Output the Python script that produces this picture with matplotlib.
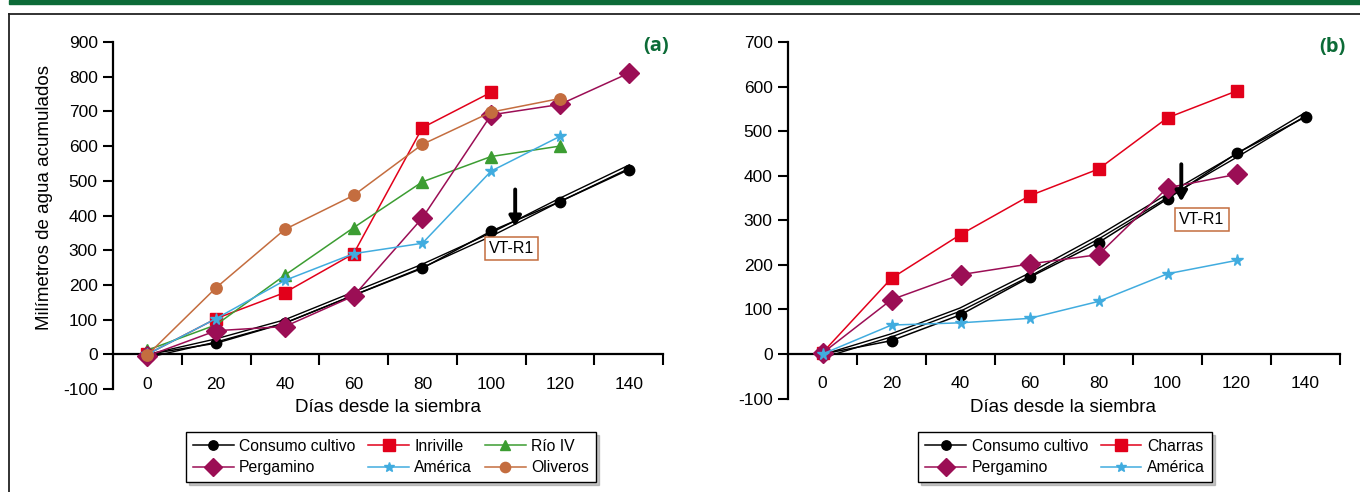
import matplotlib
matplotlib.use("Agg")
import matplotlib.pyplot as plt
from matplotlib.lines import Line2D
from matplotlib.patches import Rectangle

plt.rcParams['font.family'] = ['Liberation Sans', 'DejaVu Sans']
plt.rcParams['axes.unicode_minus'] = False

# ---------------- data ----------------
dias = [0, 20, 40, 60, 80, 100, 120, 140]

# panel (a)
a_consumo = [0, 32, 90, 170, 248, 355, 440, 532]
a_consumo_trend = [-5, 40, 95, 175, 255, 345, 445, 540]
a_inriville = [0, 103, 178, 290, 653, 755]
a_rio_iv = [12, 85, 228, 365, 497, 570, 600]
a_pergamino = [-5, 68, 80, 168, 393, 690, 720, 810]
a_america = [0, 103, 213, 290, 320, 528, 628]
a_oliveros = [-2, 192, 360, 458, 605, 698, 737]

# panel (b)
b_consumo = [0, 30, 88, 172, 250, 348, 450, 532]
b_consumo_trend = [-5, 42, 100, 178, 262, 355, 445, 538]
b_charras = [3, 170, 268, 355, 415, 530, 590]
b_pergamino = [2, 122, 178, 202, 223, 373, 403]
b_america = [0, 65, 70, 80, 118, 180, 210]

xlabel = "Días desde la siembra"
ylabel = "Milímetros de agua acumulados"

C_BLACK = "#000000"
C_RED = "#e2001a"
C_GREEN = "#3c9d32"
C_PURPLE = "#9b0e55"
C_BLUE = "#41acdf"
C_ORANGE = "#c46d3f"
C_DKGREEN = "#0c6b37"

W, H = 1360, 492
fig = plt.figure(figsize=(W / 100, H / 100), dpi=100)

def px(x0, y0, x1, y1):
    return [x0 / W, 1 - y1 / H, (x1 - x0) / W, (y1 - y0) / H]

def style_axes(ax, ymin, ymax, ystep):
    ax.set_xlim(-10, 150)
    ax.set_ylim(ymin, ymax)
    for s in ['top', 'right']:
        ax.spines[s].set_visible(False)
    ax.spines['bottom'].set_position(('data', 0))
    ax.spines['left'].set_linewidth(1.6)
    ax.spines['bottom'].set_linewidth(1.6)
    ax.set_yticks(list(range(ymin, ymax + 1, ystep)))
    ax.tick_params(axis='y', direction='out', length=7, width=1.5, labelsize=12.5, pad=4)
    ax.set_xticks(list(range(10, 151, 20)))
    ax.set_xticklabels([])
    ax.set_xticks(dias, minor=True)
    ax.set_xticklabels([str(d) for d in dias], minor=True)
    ax.tick_params(axis='x', which='major', direction='out', length=8, width=1.5)
    ax.tick_params(axis='x', which='minor', length=0, labelsize=12.5, pad=16)

def trend(ax, xs, ys):
    ax.plot(xs, ys, color=C_BLACK, lw=3.2, zorder=2, solid_joinstyle='miter')
    ax.plot(xs, ys, color='white', lw=1.2, zorder=2.1, solid_joinstyle='miter')

LEG = dict(loc='center', fontsize=11.3, fancybox=False, edgecolor='black', framealpha=1,
           handlelength=2.6, columnspacing=0.8, handletextpad=0.35, borderpad=0.45,
           labelspacing=0.4, markerscale=0.9, shadow={'shade': 0.45})

# ---------------- panel (a) ----------------
ax1 = fig.add_axes(px(113, 42, 663, 389))
style_axes(ax1, -100, 900, 100)
trend(ax1, dias, a_consumo_trend)
h_cons, = ax1.plot(dias, a_consumo, color=C_BLACK, lw=1.1, marker='o', ms=7.5, zorder=3, label='Consumo cultivo')
h_inr, = ax1.plot(dias[:len(a_inriville)], a_inriville, color=C_RED, lw=1.1, marker='s', ms=9, zorder=3, label='Inriville')
h_rio, = ax1.plot(dias[:len(a_rio_iv)], a_rio_iv, color=C_GREEN, lw=1.1, marker='^', ms=8.5, zorder=3, label='Río IV')
h_per, = ax1.plot(dias, a_pergamino, color=C_PURPLE, lw=1.1, marker='D', ms=10, zorder=3, label='Pergamino')
h_ame, = ax1.plot(dias[:len(a_america)], a_america, color=C_BLUE, lw=1.1, marker='*', ms=8.5, zorder=3, label='América')
h_oli, = ax1.plot(dias[:len(a_oliveros)], a_oliveros, color=C_ORANGE, lw=1.1, marker='o', ms=8.2, zorder=3, label='Oliveros')

ax1.annotate('', xy=(107, 360), xytext=(107, 483),
             arrowprops=dict(arrowstyle='-|>,head_width=0.35,head_length=0.6', color='black', lw=2.8), zorder=5)
ax1.text(106, 305, 'VT-R1', ha='center', va='center', fontsize=11.5,
         bbox=dict(boxstyle='square,pad=0.25', fc='white', ec=C_ORANGE, lw=1.1), zorder=6)
fig.text(669 / W, 1 - 46 / H, '(a)', ha='right', va='center', fontsize=14.5, fontweight='bold',
         color=C_DKGREEN, family=['Open Sans', 'DejaVu Sans'])
fig.text(388 / W, 1 - 407 / H, xlabel, ha='center', va='center', fontsize=13.5)
fig.text(45 / W, 1 - 197 / H, ylabel, ha='center', va='center', rotation=90, fontsize=13.5)

fig.legend(handles=[h_cons, h_per, h_inr, h_ame, h_rio, h_oli], ncol=3,
           bbox_to_anchor=(391 / W, 1 - 457 / H), **LEG)

# ---------------- panel (b) ----------------
ax2 = fig.add_axes(px(788, 42, 1340, 398.6))
style_axes(ax2, -100, 700, 100)
trend(ax2, dias, b_consumo_trend)
g_cons, = ax2.plot(dias, b_consumo, color=C_BLACK, lw=1.1, marker='o', ms=7.5, zorder=3, label='Consumo cultivo')
g_cha, = ax2.plot(dias[:len(b_charras)], b_charras, color=C_RED, lw=1.1, marker='s', ms=9, zorder=3, label='Charras')
g_per, = ax2.plot(dias[:len(b_pergamino)], b_pergamino, color=C_PURPLE, lw=1.1, marker='D', ms=10, zorder=3, label='Pergamino')
g_ame, = ax2.plot(dias[:len(b_america)], b_america, color=C_BLUE, lw=1.1, marker='*', ms=8.5, zorder=3, label='América')

ax2.annotate('', xy=(104, 336), xytext=(104, 432),
             arrowprops=dict(arrowstyle='-|>,head_width=0.35,head_length=0.6', color='black', lw=2.8), zorder=5)
ax2.text(110, 302, 'VT-R1', ha='center', va='center', fontsize=11.5,
         bbox=dict(boxstyle='square,pad=0.25', fc='white', ec=C_ORANGE, lw=1.1), zorder=6)
fig.text(1346 / W, 1 - 47 / H, '(b)', ha='right', va='center', fontsize=14.5, fontweight='bold',
         color=C_DKGREEN, family=['Open Sans', 'DejaVu Sans'])
fig.text(1063 / W, 1 - 407 / H, xlabel, ha='center', va='center', fontsize=13.5)

fig.legend(handles=[g_cons, g_per, g_cha, g_ame], ncol=2,
           bbox_to_anchor=(1065 / W, 1 - 457 / H), **LEG)

# ---------------- frame decorations ----------------
fig.patches.append(Rectangle((9 / W, 1 - 4 / H), 1 - 9 / W, 4 / H, transform=fig.transFigure,
                             color=C_DKGREEN, zorder=0))
fig.lines.append(Line2D([9 / W, 1], [1 - 14 / H, 1 - 14 / H], transform=fig.transFigure,
                        color='#222222', lw=1.3))
fig.lines.append(Line2D([9 / W, 9 / W], [0, 1 - 14 / H], transform=fig.transFigure,
                        color='#222222', lw=1.3))

fig.savefig('out.png', dpi=100)
